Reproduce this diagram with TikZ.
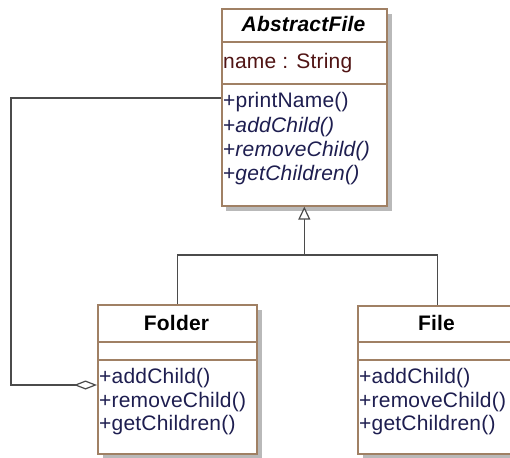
\documentclass[tikz,border=0pt]{standalone}
\usepackage{fontspec}
\setmainfont{Liberation Sans}[LetterSpace=1]
\usetikzlibrary{arrows.meta}
\definecolor{boxc}{RGB}{160,128,100}
\definecolor{opc}{RGB}{30,30,80}
\definecolor{attrc}{RGB}{80,20,20}
\definecolor{linec}{RGB}{75,75,75}
\definecolor{shadowc}{RGB}{185,185,185}
\tikzset{
  umlbox/.style={draw=boxc, line width=1.6pt, fill=white, rectangle, inner sep=0pt, anchor=north west},
  divider/.style={draw=boxc, line width=1.6pt},
  optext/.style={anchor=base west, inner sep=0pt, text=opc, font=\fontsize{21}{24}\selectfont},
  attrtext/.style={anchor=base west, inner sep=0pt, text=attrc, font=\fontsize{21}{24}\selectfont},
  titletext/.style={anchor=base, inner sep=0pt, text=black, font=\fontsize{21}{24}\selectfont\bfseries},
  conn/.style={draw=linec, line width=1.5pt},
}
\begin{document}
\begin{tikzpicture}[x=1pt, y=-1pt]
\clip (0,0) rectangle (510,457);
\fill[white] (0,0) rectangle (510,457);
% shadows
\fill[shadowc] (226,14) rectangle (392,211);
\fill[shadowc] (103,310) rectangle (262,459);
\fill[shadowc] (363,311) rectangle (522,459);
% boxes
\node[umlbox, minimum width=165pt, minimum height=197pt] (af) at (221,8) {};
\node[umlbox, minimum width=159pt, minimum height=149pt] (folder) at (97,304) {};
\node[umlbox, minimum width=159pt, minimum height=148pt] (file) at (357,305) {};
% dividers
\draw[divider] (221,42) -- (386,42);
\draw[divider] (221,84) -- (386,84);
\draw[divider] (97,342) -- (256,342);
\draw[divider] (97,360) -- (256,360);
\draw[divider] (357,342) -- (516,342);
\draw[divider] (357,360) -- (516,360);
% AbstractFile texts
\node[titletext, font=\fontsize{21}{24}\selectfont\bfseries\itshape] (aft) at (303.5,32) {AbstractFile};
\node[attrtext] (afa) at (223,69) {name : String};
\node[optext] (afo1) at (223,108) {+printName()};
\node[optext] (afo2) at (223,132) {+\textit{addChild()}};
\node[optext] (afo3) at (223,156) {+\textit{removeChild()}};
\node[optext] (afo4) at (223,180) {+\textit{getChildren()}};
% Folder texts
\node[titletext] (fot) at (176.5,330) {Folder};
\node[optext] (foo1) at (99,383) {+addChild()};
\node[optext] (foo2) at (99,407) {+removeChild()};
\node[optext] (foo3) at (99,430) {+getChildren()};
% File texts
\node[titletext] (fit) at (436.5,330) {File};
\node[optext] (fio1) at (359,383) {+addChild()};
\node[optext] (fio2) at (359,407) {+removeChild()};
\node[optext] (fio3) at (359,430) {+getChildren()};
% generalization
\coordinate (j) at (af.south |- 0,255);
\draw[conn] (folder.north) -- (folder.north |- j) -- (file.north |- j) -- (file.north);
\draw[conn, -{Triangle[open, length=13pt, width=12pt, line width=1.2pt, fill=white]}] (j) -- (af.south);
% aggregation
\coordinate (aggA) at (221,98);
\coordinate (aggB) at (97,385);
\draw[conn, -{Diamond[open, length=23pt, width=9pt, line width=1.2pt, fill=white]}] (aggA) -- (11,98) |- (aggB);
\end{tikzpicture}
\end{document}
